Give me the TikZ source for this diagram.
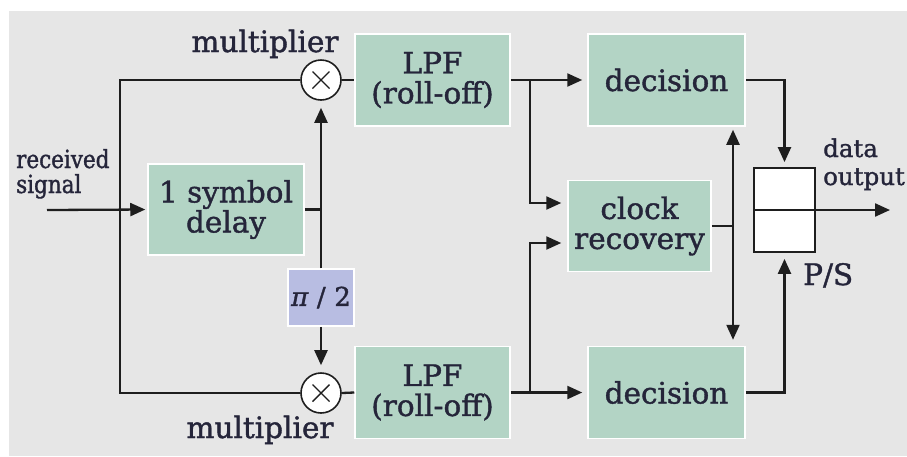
\documentclass[tikz,border=0pt]{standalone}
\usepackage{fontspec}
\setmainfont{DejaVu Serif}[FakeBold=1.3]
\newfontfamily\narrowserif{DejaVu Serif}[FakeBold=1.3, FakeStretch=0.86]
\usetikzlibrary{arrows.meta,calc}
\definecolor{bg}{HTML}{E6E6E6}
\definecolor{boxgreen}{HTML}{B3D4C5}
\definecolor{boxblue}{HTML}{B8BDE2}
\definecolor{ink}{HTML}{25253A}
\definecolor{wire}{HTML}{1E1E1E}
\begin{document}
\begin{tikzpicture}[x=1pt,y=-1pt,
  block/.style={draw=white, line width=1.5pt, fill=boxgreen, text=ink,
    align=center, inner sep=0pt, font={\fontsize{29.5}{30}\selectfont}},
  phase/.style={draw=white, line width=1.5pt, fill=boxblue, text=ink,
    inner sep=0pt, minimum width=66pt, minimum height=57pt,
    font={\fontsize{26}{28}\selectfont}},
  mult/.style={circle, draw=wire, line width=1.6pt, fill=white,
    minimum size=40pt, inner sep=0pt},
  lab/.style={text=ink, inner sep=0pt, font={\fontsize{29.5}{30}\selectfont}},
  side/.style={text=ink, inner sep=0pt, align=left},
  wire/.style={draw=wire, line width=2.3pt},
  arr/.style={wire, -{Triangle[length=15pt,width=13pt]}}
]
\useasboundingbox (0,0) rectangle (907,456);
\fill[white] (0,0) rectangle (907,456);
\fill[bg] (9,11) rectangle (907,456);

% processing blocks
\node[block, minimum width=156pt, minimum height=91pt] (delay) at (226,209.5) {1 symbol\\delay};
\node[block, minimum width=155pt, minimum height=92pt] (lpfT) at (432.5,80) {LPF\\(roll-off)};
\node[block, minimum width=155pt, minimum height=92pt] (lpfB) at (432.5,392.5) {LPF\\(roll-off)};
\node[block, minimum width=157pt, minimum height=92pt] (decT) at (666.5,80) {decision};
\node[block, minimum width=157pt, minimum height=92pt] (decB) at (666.5,392.5) {decision};
\node[block, minimum width=143pt, minimum height=91pt] (clock) at (639.5,226) {clock\\recovery};
\node[phase] (pi) at (321,297.5) {{\itshape π}\,\,/\,\,2};

% multipliers
\node[mult] (mulT) at (321,80) {};
\node[mult] (mulB) at (321,393) {};
\foreach \m in {mulT,mulB}{
  \draw[draw=wire, line width=1.4pt] ($(\m.center)+(-8.5,-8.5)$) -- ($(\m.center)+(8.5,8.5)$);
  \draw[draw=wire, line width=1.4pt] ($(\m.center)+(-8.5,8.5)$) -- ($(\m.center)+(8.5,-8.5)$);
}

% parallel-to-serial converter
\node[draw=wire, line width=1.8pt, fill=white, minimum width=61pt, minimum height=84pt, inner sep=0pt] (ps) at (784.5,210) {};
\draw[draw=wire, line width=1.8pt] (ps.west) -- (ps.east);

% junctions and free ends
\coordinate (rin) at (47,210);
\coordinate (lsplit) at (120,210);
\coordinate (dsplit) at (mulT.south |- delay.east);
\coordinate (tsplit) at (530,80);
\coordinate (bsplit) at (530,392.5);
\coordinate (csplit) at (733,226);
\coordinate (dout) at (890,210);

% front end
\draw[arr, shorten >=2pt] (rin) -- (delay.west);
\draw[wire] (mulT.west) -| (lsplit) |- (mulB.west);
\draw[wire] (delay.east) -- (dsplit);
\draw[arr, shorten >=7pt] (pi.north) -- (mulT.south);
\draw[arr, shorten >=7pt] (pi.south) -- (mulB.north);
\draw[wire] (mulT.east) -- (lpfT.west);
\draw[wire] (mulB.east) -- (lpfB.west);

% filters to decision and clock recovery
\draw[arr, shorten >=5pt] (lpfT.east) -- (decT.west);
\draw[arr, shorten >=5pt] (lpfB.east) -- (decB.west);
\draw[arr, shorten >=6pt] (tsplit) |- ($(clock.west)+(0,-23)$);
\draw[arr, shorten >=6pt] (bsplit) |- ($(clock.west)+(0,17)$);

% clock distribution
\draw[wire] (clock.east) -- (csplit);
\draw[arr, shorten >=3pt] (csplit) -- (csplit |- decT.south);
\draw[arr, shorten >=6pt] (csplit) -- (csplit |- decB.north);

% decisions to P/S and output
\draw[arr, shorten >=5pt] (decT.east) -| (ps.north);
\draw[arr, shorten >=6pt] (decB.east) -| (ps.south);
\draw[arr] (ps.east) -- (dout);

% labels (multi-line labels are placed by the baseline of their last line)
\node[lab, anchor=base] (mlabT) at (265,52) {multiplier};
\node[lab, anchor=base] (mlabB) at (260,438) {multiplier};
\node[side, anchor=base west, font={\narrowserif\fontsize{25}{25}\selectfont}] (rxlab) at (16,193) {received\\signal};
\node[side, anchor=base west, font={\fontsize{24.5}{28}\selectfont}] (outlab) at (823,185) {data\\output};
\node[lab, anchor=base west] (pslab) at (803,285) {P/S};
\end{tikzpicture}
\end{document}
